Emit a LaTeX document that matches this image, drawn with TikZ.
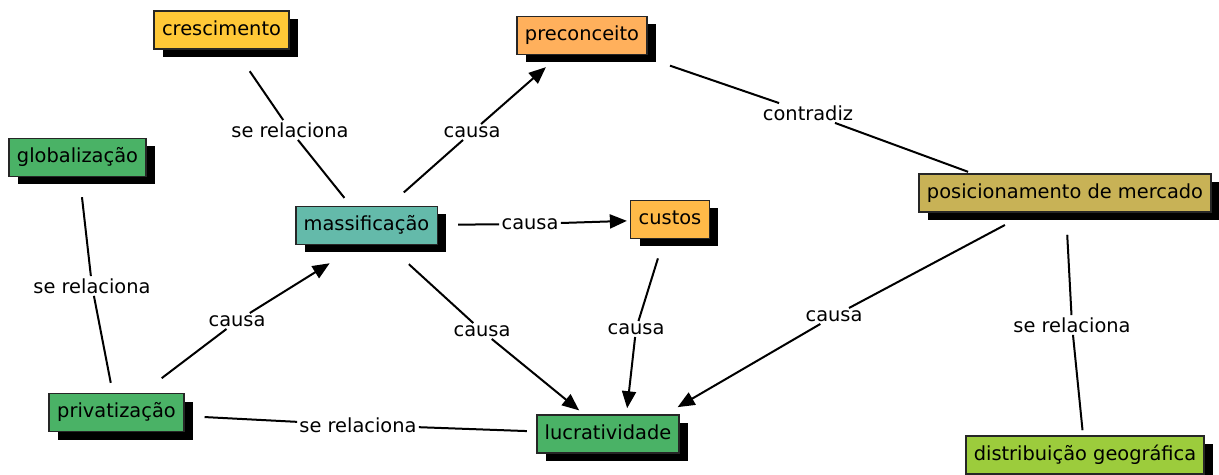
\documentclass[tikz,border=0pt]{standalone}
\usepackage{fontspec}
\setmainfont{DejaVu Sans}
\usetikzlibrary{arrows.meta, shadows}

\definecolor{cyellow}{RGB}{255,200,55}
\definecolor{corange}{RGB}{255,176,92}
\definecolor{camber}{RGB}{255,186,72}
\definecolor{cteal}{RGB}{100,186,170}
\definecolor{cgreen}{RGB}{74,178,102}
\definecolor{colive}{RGB}{200,178,86}
\definecolor{clime}{RGB}{156,204,60}

\begin{document}
\begin{tikzpicture}[x=0.5pt, y=-0.5pt, font=\fontsize{9.7pt}{11pt}\selectfont,
    concept/.style={draw=black!85, line width=0.8pt, inner xsep=4pt, inner ysep=0pt,
      minimum height=19pt, text height=7.6pt, text depth=2.4pt,
      general shadow={fill=black, shadow xshift=4.5pt, shadow yshift=-4pt}},
    linkname/.style={fill=white, inner sep=1pt},
    link/.style={line width=1pt},
    causes/.style={link, -{Triangle[length=8.5pt, width=7pt]}},
    gapstart/.style={shorten <=#1},
    gapend/.style={shorten >=#1}]
  \useasboundingbox (0,0) rectangle (1219,475);

  % concepts
  \node[concept, fill=cyellow] (cresc) at (221.5,30) {crescimento};
  \node[concept, fill=corange] (prec) at (582,35.5) {preconceito};
  \node[concept, fill=cgreen] (glob) at (77.5,157.5) {globalização};
  \node[concept, fill=cteal] (massif) at (366.5,225.5) {massificação};
  \node[concept, fill=camber] (custos) at (670,219.5) {custos};
  \node[concept, fill=colive] (posic) at (1065,193) {posicionamento de mercado};
  \node[concept, fill=cgreen] (priv) at (116.5,412.5) {privatização};
  \node[concept, fill=cgreen] (lucr) at (608,434) {lucratividade};
  \node[concept, fill=clime] (distr) at (1085,455) {distribuição geográfica};

  % linking phrases
  \node[linkname] (lCresc) at (290,130) {se relaciona};
  \node[linkname] (lGlob) at (92,286) {se relaciona};
  \node[linkname] (lPriv) at (237,321) {causa};
  \node[linkname] (lPrec) at (472,132) {causa};
  \node[linkname] (lCustos) at (530,224) {causa};
  \node[linkname] (lMassif) at (482,331) {causa};
  \node[linkname] (lLucr) at (636,329) {causa};
  \node[linkname] (lPosic) at (834,316) {causa};
  \node[linkname] (lContr) at (808,113) {contradiz};
  \node[linkname] (lDistr) at (1072,325) {se relaciona};
  \node[linkname] (lPrivLucr) at (358,425) {se relaciona};

  % plain relations
  \draw[link, gapstart=13pt] (cresc) -- (lCresc);
  \draw[link, gapend=5pt] (lCresc) -- (massif);
  \draw[link, gapstart=10pt] (glob) -- (lGlob);
  \draw[link, gapend=5pt] (lGlob) -- (priv);
  \draw[link, gapstart=16pt] (prec) -- (lContr);
  \draw[link, gapend=2pt] (lContr) -- (posic.168);
  \draw[link, gapstart=11pt] (posic) -- (lDistr);
  \draw[link, gapend=2.5pt] (lDistr) -- (distr);
  \draw[link, gapstart=10pt] (priv) -- (lPrivLucr);
  \draw[link, gapend=4.5pt] (lPrivLucr) -- (lucr);

  % causal relations
  \draw[link, gapstart=12pt] (priv) -- (lPriv);
  \draw[causes, gapend=17pt] (lPriv) -- (massif.-112);
  \draw[link, gapstart=10pt] (massif) -- (lPrec);
  \draw[causes, gapend=9pt] (lPrec) -- (prec);
  \draw[link, gapstart=10pt] (massif) -- (lCustos);
  \draw[causes, gapend=1.5pt] (lCustos) -- (custos);
  \draw[link, gapstart=14pt] (massif) -- (lMassif);
  \draw[causes, gapend=3pt] (lMassif) -- (lucr);
  \draw[link, gapstart=10pt] (custos) -- (lLucr);
  \draw[causes, gapend=3pt] (lLucr) -- (lucr.47);
  \draw[link, gapstart=13pt] (posic) -- (lPosic);
  \draw[causes, gapend=7pt] (lPosic) -- (lucr.19);
\end{tikzpicture}
\end{document}
